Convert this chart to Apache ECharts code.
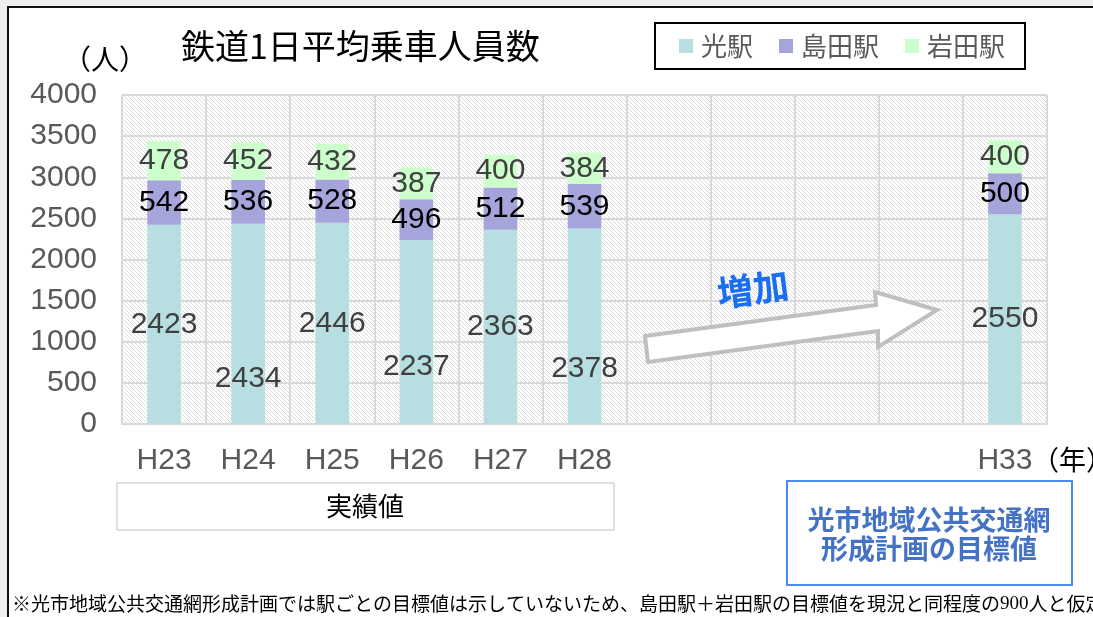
<!DOCTYPE html>
<html>
<head>
<meta charset="utf-8">
<script src="https://cdn.jsdelivr.net/npm/echarts@6/dist/echarts.min.js"></script>
<style>
  html, body { margin: 0; padding: 0; background: #efefef; }
  #frame { position: absolute; left: 7px; top: 6px; width: 1200px; height: 700px;
           background: #fff; border-left: 2px solid #111; border-top: 2px solid #111; }
  #main { position: absolute; left: 0; top: 0; width: 1093px; height: 617px; }
</style>
</head>
<body>
<div id="frame"></div>
<div id="main"></div>
<script>
// 年度（H29〜H32 は空欄）
var years = ['H23', 'H24', 'H25', 'H26', 'H27', 'H28', 'H29', 'H30', 'H31', 'H32', 'H33'];
var yearLabels = ['H23', 'H24', 'H25', 'H26', 'H27', 'H28', '', '', '', '', 'H33'];
var hikari = [2423, 2434, 2446, 2237, 2363, 2378, null, null, null, null, 2550];   // 光駅
var shimada = [542, 536, 528, 496, 512, 539, null, null, null, null, 500];         // 島田駅
var iwata = [478, 452, 432, 387, 400, 384, null, null, null, null, 400];           // 岩田駅
var yTicks = [0, 500, 1000, 1500, 2000, 2500, 3000, 3500, 4000];

var font = '"Liberation Sans", "Noto Sans CJK JP", sans-serif';
var jp = '"Noto Sans CJK JP", sans-serif';

// 斜線の背景パターン
var tile = document.createElement('canvas');
tile.width = 4; tile.height = 4;
var tctx = tile.getContext('2d');
tctx.fillStyle = '#ffffff';
tctx.fillRect(0, 0, 4, 4);
tctx.fillStyle = '#dcdcdc';
for (var p = 0; p < 4; p++) {
  tctx.fillRect(p, p, 1, 1);
}

// 光駅ラベルを手で下にずらした年
var hikariLabelDrop = { H24: 55, H26: 35, H28: 43 };
var hikariData = hikari.map(function (v, i) {
  var drop = hikariLabelDrop[years[i]] || 0;
  return { value: v, label: { offset: [0, drop] } };
});

var myChart = echarts.init(document.getElementById('main'));

var option = {
  backgroundColor: 'transparent',
  animation: false,
  title: {
    text: '鉄道1日平均乗車人員数',
    left: 181,
    top: 29,
    padding: 0,
    textStyle: { fontFamily: jp, fontSize: 34, fontWeight: 'normal', color: '#000' }
  },
  legend: {
    left: 655,
    top: 23,
    padding: [10, 20, 10, 24],
    borderColor: '#000',
    borderWidth: 2,
    itemWidth: 14,
    itemHeight: 14,
    itemGap: 26,
    icon: 'rect',
    textStyle: { fontFamily: jp, fontSize: 26, color: '#595959', padding: [0, 0, 0, 3] },
    data: ['光駅', '島田駅', '岩田駅']
  },
  grid: {
    left: 122,
    right: 46,
    top: 95,
    bottom: 193,
    show: true,
    borderWidth: 0,
    backgroundColor: { image: tile, repeat: 'repeat' }
  },
  xAxis: {
    type: 'category',
    data: years,
    axisLine: { lineStyle: { color: '#d9d9d9', width: 2 } },
    axisTick: { show: false },
    splitLine: { show: true, interval: 0, lineStyle: { color: '#d9d9d9', width: 2 } },
    axisLabel: {
      interval: 0,
      margin: 22,
      fontFamily: font,
      fontSize: 30,
      color: '#595959',
      formatter: function (v, i) { return yearLabels[i]; }
    }
  },
  yAxis: {
    type: 'value',
    min: yTicks[0],
    max: yTicks[yTicks.length - 1],
    interval: 500,
    axisLine: { show: false },
    axisTick: { show: false },
    splitLine: { lineStyle: { color: '#d9d9d9', width: 2 } },
    axisLabel: {
      margin: 25, fontFamily: font, fontSize: 30, color: '#595959',
      formatter: function (v) { return String(v); }
    }
  },
  series: [
    {
      name: '光駅',
      type: 'bar',
      stack: 'total',
      barWidth: '40%',
      itemStyle: { color: '#b7dee0' },
      label: { show: true, position: 'inside', fontFamily: font, fontSize: 30, color: '#404040' },
      data: hikariData
    },
    {
      name: '島田駅',
      type: 'bar',
      stack: 'total',
      itemStyle: { color: '#a5a5dc' },
      label: { show: true, position: 'inside', fontFamily: font, fontSize: 30, color: '#000' },
      data: shimada
    },
    {
      name: '岩田駅',
      type: 'bar',
      stack: 'total',
      itemStyle: { color: '#ccffcc' },
      label: { show: true, position: 'inside', fontFamily: font, fontSize: 30, color: '#404040' },
      data: iwata
    }
  ],
  graphic: [
    { type: 'text', left: 63, top: 45,
      style: { text: '（人）', font: '28px ' + jp, fill: '#000' } },
    { type: 'text', left: 1032, top: 446,
      style: { text: '（年）', font: '27px ' + jp, fill: '#000' } },
    // 増加の矢印
    { type: 'polygon', z: 10,
      shape: { points: [[648, 362], [645, 336], [876, 305], [875, 292], [937, 310], [878, 347], [878, 331]] },
      style: { fill: '#fff', stroke: '#bfbfbf', lineWidth: 4 } },
    { type: 'text', z: 11, x: 753, y: 289, rotation: 0.13,
      style: { text: '増加', font: 'bold 36px ' + jp, fill: '#1a6ff0', align: 'center', verticalAlign: 'middle' } },
    // 実績値
    { type: 'rect', z: 10, shape: { x: 117, y: 483, width: 497, height: 47 },
      style: { fill: '#fff', stroke: '#bfbfbf', lineWidth: 1 } },
    { type: 'text', z: 11, x: 365, y: 506,
      style: { text: '実績値', font: '26px ' + jp, fill: '#000', align: 'center', verticalAlign: 'middle' } },
    // 目標値
    { type: 'rect', z: 10, shape: { x: 787, y: 481, width: 285, height: 104 },
      style: { fill: '#fff', stroke: '#4a8af4', lineWidth: 2 } },
    { type: 'text', z: 11, x: 929, y: 534,
      style: { text: '光市地域公共交通網\n形成計画の目標値', font: 'bold 27px ' + jp, lineHeight: 29,
               fill: '#4472c4', align: 'center', verticalAlign: 'middle' } },
    // 注記
    { type: 'text', z: 11, x: 12, y: 604,
      style: {
        text: '※光市地域公共交通網形成計画では駅ごとの目標値は示していないため、島田駅＋岩田駅の目標値を現況と同程度の{s|900}人と仮定した。',
        font: '19px ' + jp, fill: '#000', verticalAlign: 'middle',
        rich: { s: { fontFamily: '"Liberation Serif", serif', fontSize: 19, fill: '#000' } }
      } }
  ]
};

myChart.setOption(option);
</script>
</body>
</html>
